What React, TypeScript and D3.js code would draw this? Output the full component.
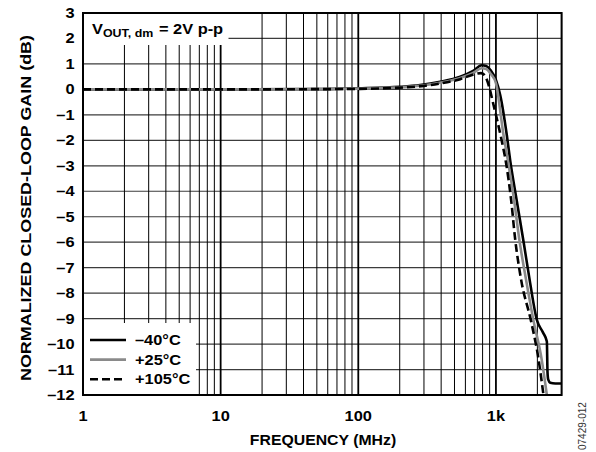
import React from "react"
import * as d3 from "d3"

// frequency (MHz) / normalized gain (dB)
const freqM40 = [1, 10, 50, 100, 200, 281, 393, 550, 683, 789, 850, 912, 1000, 1074, 1200, 1270, 1420, 1590, 1760, 1983, 2200, 2344, 2370, 2400, 2480, 2700, 3000]
const gainM40 = [0, 0, 0.01, 0.04, 0.1, 0.17, 0.3, 0.5, 0.73, 0.95, 0.92, 0.76, 0.37, -0.22, -1.8, -2.8, -4.4, -6.0, -7.5, -9.05, -9.55, -9.9, -11.1, -11.4, -11.52, -11.55, -11.55]

const freqP25 = [1, 10, 50, 100, 200, 300, 400, 550, 683, 790, 850, 920, 1000, 1135, 1220, 1355, 1480, 1656, 1870, 2152, 2344]
const gainP25 = [0, 0, 0.01, 0.03, 0.08, 0.16, 0.27, 0.45, 0.65, 0.83, 0.8, 0.6, 0.25, -1.79, -2.77, -4.35, -5.91, -7.48, -9.05, -10.62, -12]

const freqP105 = [1, 10, 50, 100, 200, 300, 400, 550, 700, 780, 830, 870, 960, 1100, 1186, 1290, 1381, 1525, 1800, 2040, 2215]
const gainP105 = [0, 0, 0.01, 0.02, 0.07, 0.14, 0.24, 0.4, 0.6, 0.64, 0.55, 0.3, -0.6, -2.0, -2.9, -4.35, -5.9, -7.48, -9.1, -10.6, -12]

const seriesNames = ["–40°C", "+25°C", "+105°C"]
const yTicks = [3, 2, 1, 0, -1, -2, -3, -4, -5, -6, -7, -8, -9, -10, -11, -12]
const xTickValues = [1, 10, 100, 1000]
const xTickLabels = ["1", "10", "100", "1k"]

const W = 596
const H = 452
const L = 83
const R = 561.6
const T = 13
const B = 395
const FONT = "'Liberation Sans', Arial, sans-serif"
const SX = 1.13 // the original lettering is a little wider than Liberation Sans

function Label(props: { x: number; y: number; anchor?: string; size?: number; children: React.ReactNode }) {
  const { x, y, anchor = "start", size = 14.5, children } = props
  return (
    <text
      transform={`translate(${x},${y}) scale(${SX},1)`}
      textAnchor={anchor}
      fontSize={size}
      fill="#000"
    >
      {children}
    </text>
  )
}

export default function App() {
  const x = d3.scaleLog().domain([1, 3000]).range([L, R])
  const y = d3.scaleLinear().domain([-12, 3]).range([B, T])

  const line = d3
    .line<[number, number]>()
    .x(d => x(d[0]))
    .y(d => y(d[1]))
    .curve(d3.curveMonotoneX)

  const series = [
    { f: freqM40, g: gainM40, stroke: "#000", dash: null },
    { f: freqP25, g: gainP25, stroke: "#8a8a8a", dash: null },
    { f: freqP105, g: gainP105, stroke: "#000", dash: "8,4" }
  ]

  const vLines = x.ticks()
  const isDecade = (v: number) => Math.abs(Math.log10(v) - Math.round(Math.log10(v))) < 1e-9

  // white boxes for the annotation and legend cover the grid
  const noteBox = { x0: L, x1: 228.5, y0: T, y1: 45 }
  const legBox = { x0: L, x1: 196, y0: 323, y1: B }

  return (
    <svg
      width={W}
      height={H}
      style={{ position: "absolute", left: 0, top: 0, background: "#fff" }}
      fontFamily={FONT}
      fontWeight="bold"
    >
      <defs>
        <clipPath id="plot">
          <rect x={L} y={T} width={R - L} height={B - T} />
        </clipPath>
      </defs>

      {yTicks.map(v => (
        <line key={"h" + v} x1={L} x2={R} y1={y(v)} y2={y(v)} stroke="#3c3c3c" strokeWidth={1.2} />
      ))}
      {vLines.map(v => (
        <line
          key={"v" + v}
          x1={x(v)}
          x2={x(v)}
          y1={T}
          y2={B}
          stroke="#000"
          strokeWidth={isDecade(v) ? 1.8 : 1}
        />
      ))}

      <rect x={noteBox.x0} y={noteBox.y0} width={noteBox.x1 - noteBox.x0} height={noteBox.y1 - noteBox.y0} fill="#fff" />
      <rect x={legBox.x0} y={legBox.y0} width={legBox.x1 - legBox.x0} height={legBox.y1 - legBox.y0} fill="#fff" />

      <g clipPath="url(#plot)">
        {series.map((s, i) => (
          <path
            key={i}
            d={line(s.f.map((f, j) => [f, s.g[j]] as [number, number])) || ""}
            fill="none"
            stroke={s.stroke}
            strokeWidth={2.6}
            strokeDasharray={s.dash || undefined}
          />
        ))}
      </g>

      <rect x={L} y={T} width={R - L} height={B - T} fill="none" stroke="#000" strokeWidth={2} />

      <Label x={92} y={33.5}>
        V<tspan fontSize={11} dy={3.5}>OUT, dm</tspan>
        <tspan dy={-3.5} dx={1}> = 2V p-p</tspan>
      </Label>

      {series.map((s, i) => (
        <g key={"lg" + i}>
          <line
            x1={90}
            x2={126}
            y1={340 + i * 19.6}
            y2={340 + i * 19.6}
            stroke={s.stroke}
            strokeWidth={2.6}
            strokeDasharray={s.dash || undefined}
          />
          <Label x={135} y={340 + i * 19.6 + 5}>
            {seriesNames[i]}
          </Label>
        </g>
      ))}

      {yTicks.map(v => (
        <Label key={"yt" + v} x={74.5} y={y(v) + 5} anchor="end">
          {v < 0 ? "–" + Math.abs(v) : String(v)}
        </Label>
      ))}
      {xTickValues.map((v, i) => (
        <Label key={"xt" + v} x={x(v)} y={421} anchor="middle">
          {xTickLabels[i]}
        </Label>
      ))}

      <Label x={323} y={445} anchor="middle" size={14}>
        FREQUENCY (MHz)
      </Label>
      <text
        transform="translate(31, 208) rotate(-90)"
        textAnchor="middle"
        fontSize={15.5}
        textLength={346}
        lengthAdjust="spacingAndGlyphs"
        fill="#000"
      >
        NORMALIZED CLOSED-LOOP GAIN (dB)
      </text>

      <text
        transform="translate(586, 450) rotate(-90)"
        fontSize={10}
        fontWeight="normal"
        fill="#333"
      >
        07429-012
      </text>
    </svg>
  )
}
